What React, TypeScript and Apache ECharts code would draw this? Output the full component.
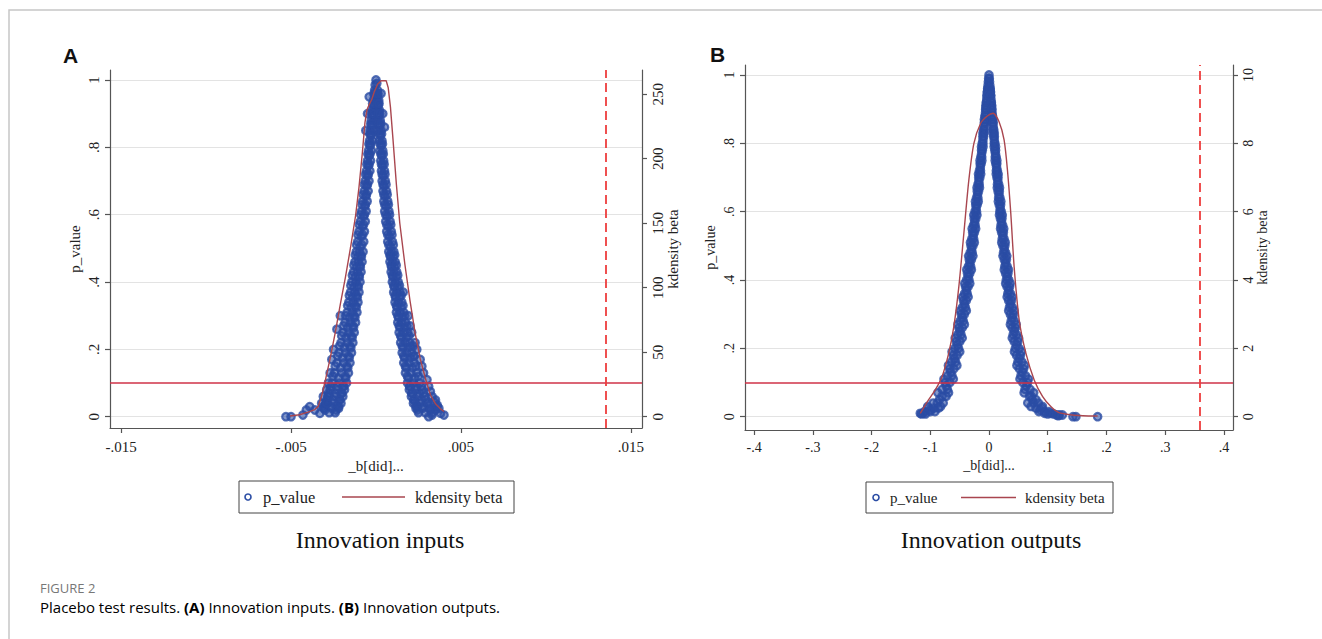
import React, { useEffect, useRef } from "react";
import * as echarts from "echarts";

// ---------- data ----------
const xTicksA = [-0.015, -0.005, 0.005, 0.015];
const xTicksB = [-0.4, -0.3, -0.2, -0.1, 0, 0.1, 0.2, 0.3, 0.4];
const pTicks = [0, 0.2, 0.4, 0.6, 0.8, 1];
const kdTicksA = [0, 50, 100, 150, 200, 250];
const kdTicksB = [0, 2, 4, 6, 8, 10];
const pThreshold = 0.1;
const actualBetaA = 0.01353;
const actualBetaB = 0.3592;

// Panel A: [beta, p_value]
const scatterA: number[][] = [
  [0, 1], [0.00005, 0.99], [-0.00005, 0.985],
  [-0.00008, 0.97], [0.00008, 0.97],
  [-0.00015, 0.94], [-0.00003, 0.94], [0.00005, 0.94], [0.00016, 0.94],
  [-0.00022, 0.91], [-0.00008, 0.91], [0.00008, 0.91], [0.0002, 0.91],
  [-0.00028, 0.88], [-0.00012, 0.88], [0.00012, 0.88], [0.00025, 0.88],
  [-0.00033, 0.85], [-0.00017, 0.85], [0.00016, 0.85], [0.0003, 0.85],
  [-0.00038, 0.82], [-0.00022, 0.82], [0.0002, 0.82], [0.00035, 0.82],
  [-0.00044, 0.79], [-0.00027, 0.79], [0.00024, 0.79], [0.0004, 0.79],
  [-0.0005, 0.76], [-0.00032, 0.76], [0.00028, 0.76], [0.00045, 0.76],
  [-0.00056, 0.73], [-0.00036, 0.73], [0.00032, 0.73], [0.0005, 0.73],
  [-0.00064, 0.7], [-0.00041, 0.7], [0.00036, 0.7], [0.00055, 0.7],
  [-0.0007, 0.67], [-0.00046, 0.67], [0.00041, 0.67], [0.00062, 0.67],
  [-0.00078, 0.64], [-0.00052, 0.64], [0.00046, 0.64], [0.00069, 0.64],
  [-0.00085, 0.61], [-0.00058, 0.61], [0.00051, 0.61], [0.00076, 0.61],
  [-0.00092, 0.58], [-0.00063, 0.58], [0.00057, 0.58], [0.00083, 0.58],
  [-0.001, 0.55], [-0.00068, 0.55], [0.00063, 0.55], [0.0009, 0.55],
  [-0.00108, 0.52], [-0.00072, 0.52], [0.00069, 0.52], [0.00097, 0.52],
  [-0.00116, 0.49], [-0.00096, 0.49], [-0.00076, 0.49], [0.00075, 0.49], [0.0009, 0.49], [0.00105, 0.49],
  [-0.00124, 0.46], [-0.00103, 0.46], [-0.00082, 0.46], [0.00082, 0.46], [0.00098, 0.46], [0.00113, 0.46],
  [-0.00132, 0.43], [-0.0011, 0.43], [-0.00088, 0.43], [0.00089, 0.43], [0.00106, 0.43], [0.00122, 0.43],
  [-0.00142, 0.4], [-0.00118, 0.4], [-0.00094, 0.4], [0.00096, 0.4], [0.00114, 0.4], [0.00131, 0.4],
  [-0.0015, 0.37], [-0.00125, 0.37], [-0.001, 0.37], [0.00104, 0.37], [0.00123, 0.37], [0.00141, 0.37], [0.0016, 0.37],
  [-0.0016, 0.34], [-0.00133, 0.34], [-0.00106, 0.34], [0.00112, 0.34], [0.00132, 0.34], [0.00152, 0.34],
  [-0.0017, 0.31], [-0.0014, 0.31], [-0.00112, 0.31], [0.0012, 0.31], [0.00142, 0.31], [0.00163, 0.31],
  [-0.00182, 0.28], [-0.0015, 0.28], [-0.0012, 0.28], [0.00128, 0.28], [0.00151, 0.28], [0.00174, 0.28],
  [-0.00194, 0.25], [-0.0016, 0.25], [-0.00128, 0.25], [0.00136, 0.25], [0.00161, 0.25], [0.00186, 0.25],
  [-0.00206, 0.22], [-0.0017, 0.22], [-0.00136, 0.22], [0.00145, 0.22], [0.00172, 0.22], [0.00198, 0.22], [0.0022, 0.21],
  [-0.00218, 0.19], [-0.0018, 0.19], [-0.00144, 0.19], [0.00154, 0.19], [0.00182, 0.19], [0.0021, 0.19], [0.00225, 0.18],
  [-0.0023, 0.16], [-0.0019, 0.16], [-0.00153, 0.16], [0.00163, 0.16], [0.00194, 0.16], [0.00224, 0.16],
  [-0.00244, 0.13], [-0.00202, 0.13], [-0.00162, 0.13], [0.00173, 0.13], [0.00206, 0.13], [0.0024, 0.13],
  [-0.00258, 0.1], [-0.00215, 0.1], [-0.00173, 0.1], [0.00185, 0.1], [0.0022, 0.1], [0.00256, 0.1],
  [-0.0027, 0.08], [-0.00225, 0.08], [-0.00185, 0.08], [0.00196, 0.08], [0.00233, 0.08], [0.0027, 0.08],
  [-0.00284, 0.06], [-0.00238, 0.06], [-0.00195, 0.06], [0.00208, 0.06], [0.00247, 0.06], [0.00286, 0.06],
  [-0.00296, 0.04], [-0.0025, 0.04], [-0.00206, 0.04], [0.0022, 0.04], [0.0026, 0.04], [0.00302, 0.04],
  [-0.00306, 0.025], [-0.0026, 0.025], [-0.0022, 0.025], [0.00235, 0.025], [0.00275, 0.025], [0.00315, 0.025],
  [-0.00275, 0.012], [-0.0024, 0.012], [0.0025, 0.012], [0.0029, 0.012], [0.0033, 0.012],
  [-0.0001, 0.955], [0.0001, 0.955], [-0.00016, 0.925], [0.00014, 0.925],
  [-0.0002, 0.895], [0.00018, 0.895], [-0.00025, 0.865], [0.00022, 0.865],
  [-0.0003, 0.835], [0.00026, 0.835], [-0.00035, 0.805], [0.0003, 0.805],
  [-0.0004, 0.775], [0.00034, 0.775], [-0.00045, 0.745], [0.00038, 0.745],
  [-0.0005, 0.715], [0.00042, 0.715], [-0.00055, 0.685], [0.00047, 0.685],
  [-0.0006, 0.655], [0.00053, 0.655], [-0.00066, 0.625], [0.0006, 0.625],
  [-0.00073, 0.595], [0.00066, 0.595], [-0.0008, 0.565], [0.00073, 0.565],
  [-0.00087, 0.535], [0.0008, 0.535], [-0.00094, 0.505], [0.00086, 0.505],
  [-0.00106, 0.475], [-0.00086, 0.475], [0.00085, 0.475], [0.001, 0.475],
  [-0.00114, 0.445], [-0.00092, 0.445], [0.00092, 0.445], [0.00108, 0.445],
  [-0.00122, 0.415], [-0.00098, 0.415], [0.001, 0.415], [0.00118, 0.415],
  [-0.0013, 0.385], [-0.00104, 0.385], [0.00108, 0.385], [0.00128, 0.385],
  [-0.00138, 0.355], [-0.0011, 0.355], [0.00116, 0.355], [0.00138, 0.355],
  [-0.00146, 0.325], [-0.00116, 0.325], [0.00124, 0.325], [0.00148, 0.325],
  [-0.00156, 0.295], [-0.00124, 0.295], [0.00133, 0.295], [0.00158, 0.295],
  [-0.00166, 0.265], [-0.00132, 0.265], [0.00141, 0.265], [0.00168, 0.265],
  [-0.00176, 0.235], [-0.0014, 0.235], [0.0015, 0.235], [0.0018, 0.235],
  [-0.00186, 0.205], [-0.00148, 0.205], [0.00159, 0.205], [0.0019, 0.205],
  [-0.00196, 0.175], [-0.00157, 0.175], [0.00168, 0.175], [0.00202, 0.175],
  [-0.00208, 0.145], [-0.00166, 0.145], [0.00178, 0.145], [0.00215, 0.145],
  [-0.0022, 0.115], [-0.00178, 0.115], [0.0019, 0.115], [0.00228, 0.115],
  [-0.0023, 0.09], [-0.0019, 0.09], [0.002, 0.09], [0.0024, 0.09],
  [-0.0024, 0.07], [-0.002, 0.07], [0.00214, 0.07], [0.00256, 0.07],
  [-0.00255, 0.05], [-0.00212, 0.05], [0.00225, 0.05], [0.00268, 0.05],
  [-0.00265, 0.03], [-0.0022, 0.03], [0.0024, 0.03], [0.0028, 0.03],
  [-0.00012, 0.96], [-0.00004, 0.96], [0.00003, 0.96], [0.00012, 0.96],
  [-0.0002, 0.93], [-0.0001, 0.93], [0.00008, 0.93], [0.00018, 0.93],
  [-0.00026, 0.9], [-0.00016, 0.9], [0.00012, 0.9], [0.00023, 0.9],
  [-0.00031, 0.87], [-0.0002, 0.87], [0.00016, 0.87], [0.00028, 0.87],
  [-0.00036, 0.84], [-0.00025, 0.84], [0.0002, 0.84], [0.00033, 0.84],
  [-0.00042, 0.81], [-0.0003, 0.81], [0.00024, 0.81], [0.00038, 0.81],
  [-0.00048, 0.78], [-0.00035, 0.78], [0.00028, 0.78], [0.00043, 0.78],
  [-0.00054, 0.75], [-0.0004, 0.75], [0.00032, 0.75], [0.00048, 0.75],
  [-0.00061, 0.72], [-0.00045, 0.72], [0.00036, 0.72], [0.00053, 0.72],
  [-0.00068, 0.69], [-0.0005, 0.69], [0.00041, 0.69], [0.00059, 0.69],
  [-0.00075, 0.66], [-0.00056, 0.66], [0.00046, 0.66], [0.00066, 0.66],
  [-0.00082, 0.63], [-0.00062, 0.63], [0.00051, 0.63], [0.00073, 0.63],
  [-0.0009, 0.6], [-0.00068, 0.6], [0.00057, 0.6], [0.0008, 0.6],
  [-0.00098, 0.57], [-0.00073, 0.57], [0.00063, 0.57], [0.00087, 0.57],
  [-0.00106, 0.54], [-0.00078, 0.54], [0.00069, 0.54], [0.00094, 0.54],
  [-0.00114, 0.51], [-0.00083, 0.51], [0.00075, 0.51], [0.00102, 0.51],
  [-0.00122, 0.48], [-0.00089, 0.48], [0.00082, 0.48], [0.0011, 0.48],
  [-0.0013, 0.45], [-0.00095, 0.45], [0.00089, 0.45], [0.00119, 0.45],
  [-0.00139, 0.42], [-0.00101, 0.42], [0.00096, 0.42], [0.00128, 0.42],
  [-0.00148, 0.39], [-0.00108, 0.39], [0.00104, 0.39], [0.00138, 0.39],
  [-0.00157, 0.36], [-0.00114, 0.36], [0.00112, 0.36], [0.00148, 0.36],
  [-0.00167, 0.33], [-0.00121, 0.33], [0.0012, 0.33], [0.00159, 0.33],
  [-0.00178, 0.3], [-0.00129, 0.3], [0.00128, 0.3], [0.0017, 0.3],
  [-0.0019, 0.27], [-0.00137, 0.27], [0.00136, 0.27], [0.00182, 0.27],
  [-0.00202, 0.24], [-0.00145, 0.24], [0.00145, 0.24], [0.00194, 0.24],
  [-0.00214, 0.21], [-0.00153, 0.21], [0.00154, 0.21], [0.00206, 0.21],
  [-0.00226, 0.18], [-0.00162, 0.18], [0.00163, 0.18], [0.00219, 0.18],
  [-0.0024, 0.15], [-0.00171, 0.15], [0.00173, 0.15], [0.00234, 0.15],
  [-0.00253, 0.12], [-0.00181, 0.12], [0.00185, 0.12], [0.00249, 0.12],
  [-0.00266, 0.09], [-0.00194, 0.09], [0.00198, 0.09], [0.00265, 0.09],
  [-0.00276, 0.07], [-0.00205, 0.07], [0.0021, 0.07], [0.00278, 0.07],
  [-0.00288, 0.05], [-0.00215, 0.05], [0.00222, 0.05], [0.00293, 0.05],
  [-0.00298, 0.035], [-0.00226, 0.035], [0.00235, 0.035], [0.00308, 0.035],
  [-0.003, 0.02], [-0.00235, 0.02], [0.00245, 0.02], [0.0032, 0.02],
  [-0.0004, 0.95], [0.0003, 0.96], [-0.0005, 0.9], [0.0004, 0.9], [-0.0006, 0.85], [0.0005, 0.86],
  [-0.0021, 0.3], [-0.0023, 0.26], [-0.0025, 0.2], [-0.0026, 0.17], [-0.0027, 0.13],
  [-0.0028, 0.1], [-0.0029, 0.08], [-0.0031, 0.06], [-0.0032, 0.04],
  [0.0019, 0.3], [0.002, 0.27], [0.0021, 0.25], [0.0023, 0.22], [0.0024, 0.2], [0.0026, 0.17],
  [0.0027, 0.15], [0.0028, 0.13], [0.003, 0.11], [0.0031, 0.09], [0.0032, 0.075], [0.0033, 0.06],
  [0.0035, 0.05], [0.0036, 0.03],
  [-0.0053, 0], [-0.005, 0], [-0.0043, 0.005], [-0.0041, 0.02], [-0.0039, 0.03],
  [-0.0036, 0.02], [-0.0033, 0.01], [-0.0031, 0.03], [-0.0029, 0.04], [-0.0028, 0.06],
  [0.0035, 0.02], [0.0037, 0.025], [0.0038, 0.01], [0.004, 0.005], [0.0036, 0.035],
  [0.0031, 0], [0.0033, 0.005], [0.0034, 0.045],
];

// Panel A: kernel density of beta [beta, density]
const kdensityA: number[][] = [
  [-0.00506, 0.5], [-0.0045, 1.5], [-0.004, 3.5], [-0.0036, 5.5], [-0.0034, 8],
  [-0.0032, 16], [-0.003, 27], [-0.0027, 45], [-0.0024, 65], [-0.0021, 87],
  [-0.0018, 108], [-0.0015, 131], [-0.0012, 156], [-0.001, 178], [-0.0008, 205],
  [-0.00065, 228], [-0.00053, 238], [-0.0004, 242], [-0.00025, 246], [-0.0001, 252],
  [0.0001, 258], [0.0003, 260.5], [0.0006, 260.5], [0.00072, 255], [0.00085, 240],
  [0.001, 215], [0.0012, 180], [0.0014, 150], [0.0017, 118], [0.002, 90],
  [0.0023, 65], [0.0026, 45], [0.0029, 30], [0.0032, 17], [0.0035, 10],
  [0.0038, 6], [0.004, 4],
];

// Panel B: [beta, p_value]
const scatterB: number[][] = [
  [0, 1], [-0.0006, 0.99], [0.0005, 0.99],
  [-0.0016, 0.97], [0.0014, 0.97],
  [-0.003, 0.95], [-0.0024, 0.95], [0.0021, 0.95], [0.0026, 0.95],
  [-0.0038, 0.93], [0.0033, 0.93],
  [-0.0054, 0.91], [-0.0043, 0.91], [0.0037, 0.91], [0.0047, 0.91],
  [-0.0059, 0.89], [0.0052, 0.89],
  [-0.0079, 0.87], [-0.0062, 0.87], [0.0054, 0.87], [0.0069, 0.87],
  [-0.0081, 0.85], [0.0071, 0.85],
  [-0.0103, 0.83], [-0.0082, 0.83], [0.0071, 0.83], [0.009, 0.83],
  [-0.0103, 0.81], [0.009, 0.81],
  [-0.0128, 0.79], [-0.0101, 0.79], [0.0088, 0.79], [0.0112, 0.79],
  [-0.0126, 0.77], [0.011, 0.77],
  [-0.0153, 0.75], [-0.0121, 0.75], [0.0105, 0.75], [0.0134, 0.75],
  [-0.0148, 0.73], [0.0129, 0.73],
  [-0.0179, 0.71], [-0.0141, 0.71], [0.0123, 0.71], [0.0156, 0.71],
  [-0.0172, 0.69], [0.015, 0.69],
  [-0.0204, 0.67], [-0.0162, 0.67], [0.0141, 0.67], [0.0179, 0.67],
  [-0.0195, 0.65], [0.017, 0.65],
  [-0.0231, 0.63], [-0.0183, 0.63], [0.0159, 0.63], [0.0202, 0.63],
  [-0.0219, 0.61], [0.0191, 0.61],
  [-0.0259, 0.59], [-0.0205, 0.59], [0.0178, 0.59], [0.0226, 0.59],
  [-0.0244, 0.57], [0.0213, 0.57],
  [-0.0287, 0.55], [-0.0227, 0.55], [0.0197, 0.55], [0.0251, 0.55],
  [-0.027, 0.53], [0.0236, 0.53],
  [-0.0316, 0.51], [-0.025, 0.51], [0.0217, 0.51], [0.0277, 0.51],
  [-0.0297, 0.49], [0.0259, 0.49],
  [-0.0347, 0.47], [-0.0274, 0.47], [0.0238, 0.47], [0.0303, 0.47],
  [-0.0325, 0.45], [0.0283, 0.45],
  [-0.0379, 0.43], [-0.03, 0.43], [0.026, 0.43], [0.0331, 0.43],
  [-0.0354, 0.41], [0.0309, 0.41],
  [-0.0413, 0.39], [-0.0327, 0.39], [0.0284, 0.39], [0.0361, 0.39],
  [-0.0385, 0.37], [0.0336, 0.37],
  [-0.0449, 0.35], [-0.0355, 0.35], [0.0309, 0.35], [0.0393, 0.35],
  [-0.0419, 0.33], [0.0365, 0.33],
  [-0.0487, 0.31], [-0.0386, 0.31], [0.0335, 0.31], [0.0426, 0.31],
  [-0.0455, 0.29], [0.0397, 0.29],
  [-0.0529, 0.27], [-0.0419, 0.27], [0.0364, 0.27], [0.0463, 0.27],
  [-0.0495, 0.25], [0.0431, 0.25],
  [-0.0576, 0.23], [-0.0456, 0.23], [0.0396, 0.23], [0.0504, 0.23],
  [-0.0539, 0.21], [0.047, 0.21],
  [-0.0629, 0.19], [-0.0498, 0.19], [0.0433, 0.19], [0.0551, 0.19],
  [-0.059, 0.17], [0.0515, 0.17],
  [-0.0691, 0.15], [-0.0547, 0.15], [0.0475, 0.15], [0.0605, 0.15],
  [-0.0651, 0.13], [0.0568, 0.13],
  [-0.0767, 0.11], [-0.0607, 0.11], [0.0527, 0.11], [0.0671, 0.11],
  [-0.0729, 0.09], [0.0636, 0.09],
  [-0.087, 0.07], [-0.0689, 0.07], [0.0598, 0.07], [0.0761, 0.07],
  [-0.08, 0.06], [-0.073, 0.06], [0.069, 0.06], [0.072, 0.06],
  [-0.0843, 0.05], [0.0735, 0.05], [0.08, 0.05],
  [-0.095, 0.04], [-0.088, 0.04], [-0.078, 0.04], [0.066, 0.04], [0.076, 0.04], [0.084, 0.04],
  [-0.1042, 0.03], [-0.0825, 0.03], [0.0716, 0.03], [0.0911, 0.03],
  [-0.105, 0.025], [-0.094, 0.025], [-0.086, 0.025], [0.08, 0.025], [0.09, 0.025],
  [-0.1, 0.02], [0.0872, 0.02],
  [-0.11, 0.015], [-0.1, 0.015], [-0.092, 0.015], [0.085, 0.015], [0.095, 0.015], [0.102, 0.015],
  [-0.112, 0.01], [-0.117, 0.01], [0.095, 0.01], [0.105, 0.01],
  [-0.115, 0.008], [-0.108, 0.008], [0.1, 0.008], [0.11, 0.008],
  [0.115, 0.005], [0.12, 0.005], [0.125, 0.005], [0.118, 0.003],
  [0.143, 0], [0.148, 0], [0.185, 0],
  [-0.0011, 0.98], [0.0009, 0.98],
  [-0.0023, 0.96], [-0.002, 0.96], [0.0018, 0.96], [0.002, 0.96],
  [-0.0034, 0.94], [-0.003, 0.94], [0.0026, 0.94], [0.003, 0.94],
  [-0.0046, 0.92], [-0.0041, 0.92], [0.0035, 0.92], [0.004, 0.92],
  [-0.0057, 0.9], [-0.0051, 0.9], [0.0044, 0.9], [0.005, 0.9],
  [-0.0069, 0.88], [-0.0061, 0.88], [0.0053, 0.88], [0.006, 0.88],
  [-0.008, 0.86], [-0.0071, 0.86], [0.0062, 0.86], [0.0071, 0.86],
  [-0.0092, 0.84], [-0.0082, 0.84], [0.0071, 0.84], [0.0081, 0.84],
  [-0.0104, 0.82], [-0.0092, 0.82], [0.008, 0.82], [0.0091, 0.82],
  [-0.0115, 0.8], [-0.0103, 0.8], [0.0089, 0.8], [0.0101, 0.8],
  [-0.0127, 0.78], [-0.0113, 0.78], [0.0098, 0.78], [0.0112, 0.78],
  [-0.0139, 0.76], [-0.0124, 0.76], [0.0107, 0.76], [0.0122, 0.76],
  [-0.0151, 0.74], [-0.0134, 0.74], [0.0116, 0.74], [0.0133, 0.74],
  [-0.0163, 0.72], [-0.0145, 0.72], [0.0125, 0.72], [0.0143, 0.72],
  [-0.0175, 0.7], [-0.0156, 0.7], [0.0135, 0.7], [0.0154, 0.7],
  [-0.0188, 0.68], [-0.0167, 0.68], [0.0144, 0.68], [0.0165, 0.68],
  [-0.02, 0.66], [-0.0178, 0.66], [0.0154, 0.66], [0.0176, 0.66],
  [-0.0213, 0.64], [-0.0189, 0.64], [0.0164, 0.64], [0.0187, 0.64],
  [-0.0226, 0.62], [-0.0201, 0.62], [0.0174, 0.62], [0.0198, 0.62],
  [-0.0239, 0.6], [-0.0212, 0.6], [0.0184, 0.6], [0.021, 0.6],
  [-0.0252, 0.58], [-0.0224, 0.58], [0.0194, 0.58], [0.0221, 0.58],
  [-0.0265, 0.56], [-0.0236, 0.56], [0.0204, 0.56], [0.0233, 0.56],
  [-0.0279, 0.54], [-0.0248, 0.54], [0.0214, 0.54], [0.0245, 0.54],
  [-0.0293, 0.52], [-0.0261, 0.52], [0.0225, 0.52], [0.0257, 0.52],
  [-0.0307, 0.5], [-0.0273, 0.5], [0.0236, 0.5], [0.027, 0.5],
  [-0.0321, 0.48], [-0.0286, 0.48], [0.0247, 0.48], [0.0283, 0.48],
  [-0.0336, 0.46], [-0.0299, 0.46], [0.0259, 0.46], [0.0296, 0.46],
  [-0.0351, 0.44], [-0.0313, 0.44], [0.027, 0.44], [0.0309, 0.44],
  [-0.0367, 0.42], [-0.0327, 0.42], [0.0282, 0.42], [0.0323, 0.42],
  [-0.0383, 0.4], [-0.0341, 0.4], [0.0295, 0.4], [0.0337, 0.4],
  [-0.0399, 0.38], [-0.0356, 0.38], [0.0307, 0.38], [0.0351, 0.38],
  [-0.0417, 0.36], [-0.0371, 0.36], [0.032, 0.36], [0.0366, 0.36],
  [-0.0434, 0.34], [-0.0386, 0.34], [0.0334, 0.34], [0.0382, 0.34],
  [-0.0452, 0.32], [-0.0403, 0.32], [0.0348, 0.32], [0.0398, 0.32],
  [-0.0472, 0.3], [-0.042, 0.3], [0.0363, 0.3], [0.0415, 0.3],
  [-0.0492, 0.28], [-0.0438, 0.28], [0.0378, 0.28], [0.0432, 0.28],
  [-0.0513, 0.26], [-0.0456, 0.26], [0.0394, 0.26], [0.0451, 0.26],
  [-0.0535, 0.24], [-0.0476, 0.24], [0.0411, 0.24], [0.047, 0.24],
  [-0.0558, 0.22], [-0.0497, 0.22], [0.0429, 0.22], [0.0491, 0.22],
  [-0.0583, 0.2], [-0.0519, 0.2], [0.0449, 0.2], [0.0513, 0.2],
  [-0.061, 0.18], [-0.0543, 0.18], [0.0469, 0.18], [0.0536, 0.18],
  [-0.0639, 0.16], [-0.0569, 0.16], [0.0492, 0.16], [0.0562, 0.16],
  [-0.0671, 0.14], [-0.0598, 0.14], [0.0517, 0.14], [0.059, 0.14],
  [-0.0707, 0.12], [-0.063, 0.12], [0.0544, 0.12], [0.0622, 0.12],
  [-0.0748, 0.1], [-0.0666, 0.1], [0.0576, 0.1], [0.0658, 0.1],
  [-0.0797, 0.08], [-0.0709, 0.08], [0.0613, 0.08], [0.07, 0.08],
];

// Panel B: kernel density of beta [beta, density]
const kdensityB: number[][] = [
  [-0.117, 0.1], [-0.103, 0.49], [-0.091, 0.8], [-0.08, 1.17], [-0.0686, 1.86],
  [-0.06, 2.63], [-0.0514, 3.8], [-0.0428, 5.37], [-0.0343, 6.93], [-0.0257, 8.0],
  [-0.0142, 8.59], [-0.0029, 8.8], [0.0069, 8.88], [0.0171, 8.63], [0.0257, 8.1],
  [0.0314, 7.22], [0.0371, 5.95], [0.0428, 4.39], [0.0514, 2.83], [0.0628, 1.86],
  [0.0771, 1.07], [0.0914, 0.59], [0.1057, 0.29], [0.119, 0.12], [0.142, 0.05],
  [0.16, 0.03], [0.185, 0.02],
];

const legendLabels = ["p_value", "kdensity beta"];
const panelTitles = ["Innovation inputs", "Innovation outputs"];
const panelLetters = ["A", "B"];
const xName = "_b[did]...";

// ---------- styles ----------
const SERIF = "'Liberation Serif', 'Times New Roman', serif";
const SANS = "'Liberation Sans', Arial, sans-serif";
const BLUE = "#2a4ca4";
const KD = "#a9464f";
const AXIS = "#555555";
const TXT = "#222222";

const stata = (v: number) => {
  if (Math.abs(v) < 1e-12) return "0";
  const s = String(parseFloat(v.toFixed(4)));
  return s.replace(/^(-?)0\./, "$1.");
};

function xAxisCfg(gridIndex: number, min: number, max: number, ticks: number[], margin: number, nameGap: number, fs: number) {
  return {
    type: "value", gridIndex, min, max,
    name: xName, nameLocation: "middle", nameGap,
    nameTextStyle: { fontFamily: SERIF, fontSize: fs, color: TXT },
    axisLine: { show: true, onZero: false, lineStyle: { color: AXIS, width: 1.2 } },
    axisTick: { show: true, length: 5, customValues: ticks, lineStyle: { color: AXIS, width: 1.2 } },
    axisLabel: { customValues: ticks, formatter: stata, margin, fontFamily: SERIF, fontSize: fs, color: TXT },
    splitLine: { show: false },
  };
}

function yAxisCfg(gridIndex: number, pos: string, name: string, min: number, max: number, ticks: number[], margin: number, nameGap: number, fs: number, grid: boolean) {
  return {
    type: "value", gridIndex, position: pos, min, max,
    name, nameLocation: "middle", nameGap, nameRotate: 90,
    nameTextStyle: { fontFamily: SERIF, fontSize: fs, color: TXT },
    axisLine: { show: true, onZero: false, lineStyle: { color: AXIS, width: 1.2 } },
    axisTick: { show: true, length: 5, customValues: ticks, lineStyle: { color: AXIS, width: 1.2 } },
    axisLabel: { customValues: ticks, formatter: stata, rotate: 90, margin, fontFamily: SERIF, fontSize: fs, color: TXT },
    splitLine: { show: grid, lineStyle: { color: "#e3e3e3", width: 1 } },
  };
}

function legendGraphic(x: number, y: number, w: number, h: number, circleX: number, t1X: number, lineX1: number, lineX2: number, t2X: number, fs: number) {
  const cy = y + h / 2;
  return [
    { type: "rect", shape: { x, y, width: w, height: h }, style: { fill: "#fff", stroke: "#444", lineWidth: 1 } },
    { type: "circle", shape: { cx: circleX, cy, r: 3 }, style: { fill: "none", stroke: BLUE, lineWidth: 1.6 } },
    { type: "text", x: t1X, y: cy, style: { text: legendLabels[0], font: `${fs}px ${SERIF}`, fill: TXT, verticalAlign: "middle", align: "left" } },
    { type: "line", shape: { x1: lineX1, y1: cy, x2: lineX2, y2: cy }, style: { stroke: KD, lineWidth: 1.5 } },
    { type: "text", x: t2X, y: cy, style: { text: legendLabels[1], font: `${fs}px ${SERIF}`, fill: TXT, verticalAlign: "middle", align: "left" } },
  ];
}

function markLines(xCut: number) {
  return {
    silent: true, symbol: ["none", "none"], label: { show: false }, animation: false, precision: 6,
    data: [
      { yAxis: pThreshold, lineStyle: { color: "#cf3247", width: 1.5, type: "solid" } },
      { xAxis: xCut, lineStyle: { color: "#ee3d3d", width: 1.8, type: [9, 5] } },
    ],
  };
}

const scatterStyle = { color: "rgba(42,76,164,0.72)", borderColor: BLUE, borderWidth: 2.2 };

export default function App() {
  const ref = useRef<HTMLDivElement>(null);
  useEffect(() => {
    if (!ref.current) return;
    const chart = echarts.init(ref.current, null, { renderer: "svg" });
    const option: any = {
      animation: false,
      backgroundColor: "#ffffff",
      grid: [
        { left: 110, top: 70, width: 532, height: 358 },
        { left: 745, top: 65, width: 488, height: 365 },
      ],
      xAxis: [
        xAxisCfg(0, -0.01565, 0.01565, xTicksA, 11, 30, 15),
        xAxisCfg(1, -0.4155, 0.4155, xTicksB, 10, 28, 14),
      ],
      yAxis: [
        yAxisCfg(0, "left", "p_value", -0.0335, 1.0297, pTicks, 9, 28, 15, true),
        yAxisCfg(0, "right", "kdensity beta", -8.76, 268.8, kdTicksA, 8, 15, 15, false),
        yAxisCfg(1, "left", "p_value", -0.0389, 1.0293, pTicks, 9, 28, 14, true),
        yAxisCfg(1, "right", "kdensity beta", -0.389, 10.293, kdTicksB, 8, 15, 14, false),
      ],
      series: [
        {
          type: "scatter", name: legendLabels[0], xAxisIndex: 0, yAxisIndex: 0, data: scatterA,
          symbol: "circle", symbolSize: 7.5, itemStyle: scatterStyle, z: 2, markLine: markLines(actualBetaA),
        },
        {
          type: "line", name: legendLabels[1], xAxisIndex: 0, yAxisIndex: 1, data: kdensityA,
          showSymbol: false, symbol: "none", lineStyle: { color: KD, width: 1.4 }, z: 4,
        },
        {
          type: "scatter", name: legendLabels[0], xAxisIndex: 1, yAxisIndex: 2, data: scatterB,
          symbol: "circle", symbolSize: 7.5, itemStyle: scatterStyle, z: 2, markLine: markLines(actualBetaB),
        },
        {
          type: "line", name: legendLabels[1], xAxisIndex: 1, yAxisIndex: 3, data: kdensityB,
          showSymbol: false, symbol: "none", smooth: 0.25, lineStyle: { color: KD, width: 1.4 }, z: 4,
        },
      ],
      graphic: [
        { type: "polyline", shape: { points: [[9, 700], [9, 10], [1400, 10]] }, style: { fill: "none", stroke: "#c6c6c6", lineWidth: 1.5 } },
        { type: "text", x: 63, y: 55, style: { text: panelLetters[0], font: `bold 21px ${SANS}`, fill: "#111", verticalAlign: "middle" } },
        { type: "text", x: 710, y: 54, style: { text: panelLetters[1], font: `bold 21px ${SANS}`, fill: "#111", verticalAlign: "middle" } },
        ...legendGraphic(239, 481, 275, 32, 248, 263, 342, 405, 415, 16.5),
        ...legendGraphic(866, 482, 247, 31, 876, 890, 961, 1016, 1025, 15),
        { type: "text", x: 380, y: 540, style: { text: panelTitles[0], font: `24px ${SERIF}`, fill: "#111", align: "center", verticalAlign: "middle" } },
        { type: "text", x: 991, y: 540, style: { text: panelTitles[1], font: `24px ${SERIF}`, fill: "#111", align: "center", verticalAlign: "middle" } },
        { type: "text", x: 40, y: 588, style: { text: "FIGURE 2", font: `13px 'Open Sans', sans-serif`, fill: "#777", verticalAlign: "middle" } },
        {
          type: "text", x: 40, y: 607,
          style: {
            text: "{n|Placebo test results. }{b|(A)}{n| Innovation inputs. }{b|(B)}{n| Innovation outputs.}",
            verticalAlign: "middle",
            rich: {
              n: { fontFamily: "'Open Sans', sans-serif", fontSize: 15, color: "#555" },
              b: { fontFamily: "'Open Sans', sans-serif", fontSize: 15, fontWeight: "bold", color: "#333" },
            },
          },
        },
      ],
    };
    chart.setOption(option);
    return () => chart.dispose();
  }, []);
  return <div ref={ref} style={{ position: "absolute", left: 0, top: 0, width: 1322, height: 639 }} />;
}
